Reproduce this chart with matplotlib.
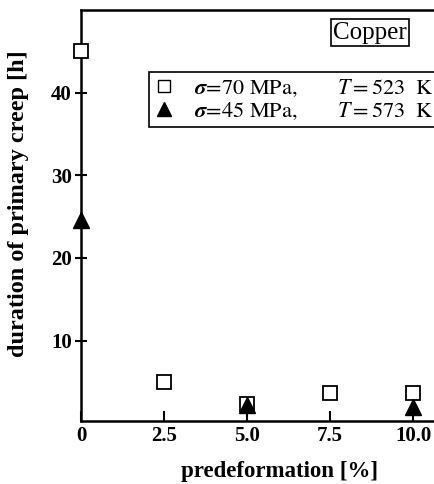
import matplotlib
matplotlib.use("Agg")
import matplotlib.pyplot as plt
from matplotlib.lines import Line2D

plt.rcParams["font.family"] = ["Liberation Serif", "DejaVu Serif"]
plt.rcParams["mathtext.fontset"] = "stix"

# data
x_70 = [0.0, 2.5, 5.0, 7.5, 10.0]
y_70 = [45.0, 5.0, 2.3, 3.7, 3.7]
x_45 = [0.0, 5.0, 10.0]
y_45 = [24.6, 2.2, 2.0]

x_ticks = [0, 2.5, 5.0, 7.5, 10.0]
x_ticklabels = ["0", "2.5", "5.0", "7.5", "10.0"]
y_ticks = [10, 20, 30, 40]

label_70 = r"$\boldsymbol{\sigma}\!=\!70\ \mathrm{MPa},\quad\ \ \ \ T=523\ \ \mathrm{K}\ $"
label_45 = r"$\boldsymbol{\sigma}\!=\!45\ \mathrm{MPa},\quad\ \ \ \ T=573\ \ \mathrm{K}\ $"


def main():
    fig = plt.figure(figsize=(4.34, 4.84), dpi=100, facecolor="white")
    W, H = 434, 484
    left, right, bottom, top = 81, 440, 420.7, 10
    ax = fig.add_axes([left / W, 1 - bottom / H, (right - left) / W, (bottom - top) / H])

    ax.plot(x_70, y_70, ls="none", marker="s", ms=10, mfc="white", mec="black", mew=1.3, clip_on=False, zorder=3)
    ax.plot(x_45, y_45, ls="none", marker="^", ms=11, mfc="black", mec="black", clip_on=False, zorder=4)

    ax.set_xlim(0, 10.81)
    ax.set_ylim(0.3, 50)
    ax.set_xticks(x_ticks)
    ax.set_xticklabels(x_ticklabels)
    ax.set_yticks(y_ticks)

    for s in ["left", "bottom", "top"]:
        ax.spines[s].set_linewidth(1.8)
    ax.spines["right"].set_visible(False)
    ax.tick_params(axis="both", direction="in", length=7, width=1.5, labelsize=15, pad=4)
    ax.tick_params(axis="y", direction="inout", length=9, pad=2)
    for t in ax.get_xticklabels() + ax.get_yticklabels():
        t.set_fontweight("bold")

    handles = [
        Line2D([], [], ls="none", marker="s", ms=8, mfc="white", mec="black", mew=1.0),
        Line2D([], [], ls="none", marker="^", ms=10, mfc="black", mec="black"),
    ]
    leg = ax.legend(handles, [label_70, label_45], loc="upper left",
                    bbox_to_anchor=(0.189, 0.849), borderaxespad=0, fontsize=16,
                    frameon=True, fancybox=False, edgecolor="black", framealpha=1,
                    handlelength=0.9, handletextpad=0.9, labelspacing=0.1,
                    borderpad=0.25)
    leg.get_frame().set_linewidth(1.2)

    ax.text(0.805, 0.944, "Copper", transform=ax.transAxes, ha="center", va="center",
            fontsize=18, bbox=dict(boxstyle="square,pad=0.1", fc="white", ec="black", lw=1.2))

    fig.text(280 / W, 1 - 471 / H, "predeformation [%]", ha="center", va="center",
             fontsize=16.5, fontweight="bold")
    fig.text(19 / W, 1 - 204 / H, "duration of primary creep [h]", ha="center", va="center",
             rotation=90, fontsize=17.5, fontweight="bold")

    fig.savefig("out.png", dpi=100)


if __name__ == "__main__":
    main()
